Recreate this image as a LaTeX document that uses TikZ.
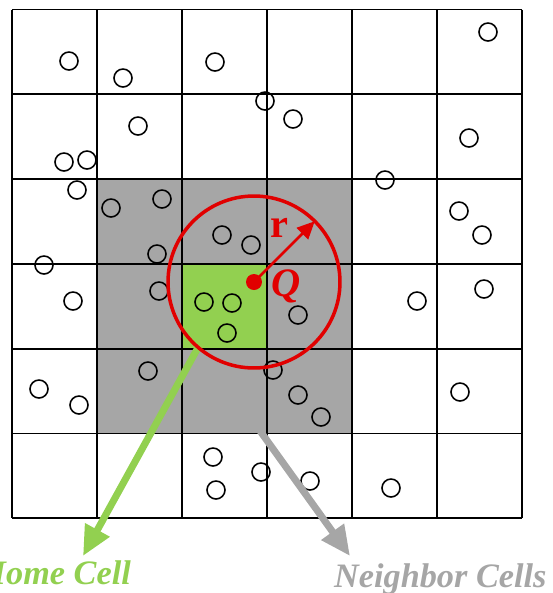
\documentclass[tikz,border=0pt]{standalone}
\usepackage{fontspec}
\setmainfont{Liberation Serif}
\usetikzlibrary{arrows.meta}
\usetikzlibrary{calc}
\definecolor{qred}{RGB}{225,0,0}
\definecolor{homegreen}{RGB}{146,208,80}
\definecolor{nbgray}{RGB}{166,166,166}

\begin{document}
\begin{tikzpicture}[x=0.02cm,y=-0.02cm,
  pt/.style={circle,draw,line width=0.9pt,inner sep=0pt,minimum size=0.36cm},
  big/.style={text=qred,font=\fontsize{23}{23}\selectfont\bfseries},
  tag/.style={font=\fontsize{19.5}{19.5}\selectfont\bfseries\itshape}]
\def\cx{85}
\def\cy{84.8}
\useasboundingbox (0,0) rectangle (553,593);

\fill[nbgray] (12+\cx,9.5+2*\cy) rectangle (12+4*\cx,9.5+5*\cy);
\fill[homegreen] (12+2*\cx,9.5+3*\cy) rectangle (12+3*\cx,9.5+4*\cy);
\foreach \i in {0,...,6} {
  \draw[line width=1.1pt] (12+\i*\cx,9.5) -- (12+\i*\cx,9.5+6*\cy);
  \draw[line width=1.1pt] (12,9.5+\i*\cy) -- (12+6*\cx,9.5+\i*\cy);
}

\foreach \x/\y [count=\n] in {69/61,123/78,215/62,488/32,
  265/101,293/119,138/126,64/162,87/160,469/138,
  77/190,111/208,162/199,222/235,251/245,157/254,385/180,459/211,482/235,
  44/265,73/301,159/291,204/302,232/303,227/333,298/315,417/301,484/289,
  148/371,39/389,79/405,273/370,298/395,321/417,460/392,
  213/457,216/490,261/472,310/481,391/488}
  \node[pt] (p\n) at (\x,\y) {};

\coordinate (hs) at (200,344);
\coordinate (ht) at (83,556);
\coordinate (ns) at (258,428);
\coordinate (nt) at (350,556);
\draw[homegreen,line width=4pt,-{Triangle[length=17pt,width=15pt]}] (hs) -- (ht);
\draw[nbgray,line width=4pt,-{Triangle[length=17pt,width=15pt]}] (ns) -- (nt);

\node[circle,fill=qred,inner sep=0pt,minimum size=0.32cm] (q) at (254,282) {};
\draw[qred,line width=2pt] (q.center) circle[radius=1.72cm];
\coordinate (rtip) at ($(q.center)+(45:1.72cm)$);
\draw[qred,line width=1.6pt,-{Triangle[length=10pt,width=9pt]}] (q.center) -- (rtip);
\node[big] (rlab) at (279,228) {r};
\node[big,font=\fontsize{23}{23}\selectfont\bfseries\itshape] (qlab) at (286,286) {Q};

\node[tag,text=homegreen,anchor=base east] (home) at (137,584) {Home Cell};
\node[tag,text=nbgray,anchor=base west] (nb) at (328,587) {Neighbor Cells};
\end{tikzpicture}
\end{document}
